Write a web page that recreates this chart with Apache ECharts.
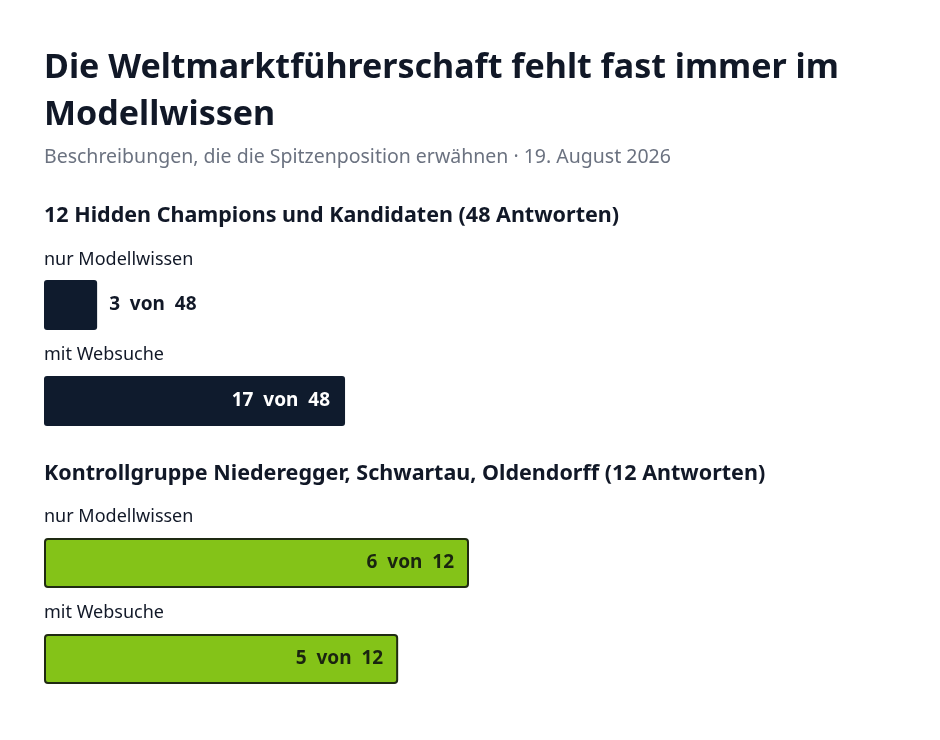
<!DOCTYPE html>
<html><head><meta charset="utf-8">
<script src="https://cdn.jsdelivr.net/npm/echarts@6/dist/echarts.min.js"></script>
<style>body{margin:0;background:#fff}#c{width:940px;height:740px}</style>
</head><body><div id="c"></div>
<script>
const groups = ["12 Hidden Champions und Kandidaten (48 Antworten)", "Kontrollgruppe Niederegger, Schwartau, Oldendorff (12 Antworten)"];
const rowLabels = ["nur Modellwissen", "mit Websuche", "nur Modellwissen", "mit Websuche"];
const hits = [3, 17, 6, 5];
const totals = [48, 48, 12, 12];
const groupOf = [0, 0, 1, 1];
const colors = ["#0f1b2d", "#84c318"];

const F = '"Noto Sans", "Open Sans", sans-serif';
const barTops = [280, 376, 538, 634];
const labelY = [263, 358, 520, 616];
const headY = [219, 477];

const grids = [], xAxes = [], yAxes = [], series = [], graphic = [];
graphic.push({type:'text', left:44, top:45, style:{text:'Die Weltmarktführerschaft fehlt fast immer im\nModellwissen', font:'bold 34px '+F, fill:'#111827', lineHeight:47}});
graphic.push({type:'text', left:44, top:147, style:{text:'Beschreibungen, die die Spitzenposition erwähnen · 19. August 2026', font:'19.5px '+F, fill:'#6b7280'}});
groups.forEach((g,i)=>graphic.push({type:'text', left:44, top:headY[i]-14, style:{text:g, font:'bold 21.5px '+F, fill:'#111827'}}));
hits.forEach((h,i)=>{
  graphic.push({type:'text', left:44, top:labelY[i]-12, style:{text:rowLabels[i], font:'18px '+F, fill:'#111827'}});
  grids.push({left:44, width:850, top:barTops[i], height:50});
  xAxes.push({type:'value', gridIndex:i, min:0, max:1, show:false});
  yAxes.push({type:'category', gridIndex:i, data:[rowLabels[i]], show:false});
  const frac = h/totals[i];
  const green = groupOf[i]===1;
  const small = frac < 0.1;
  series.push({type:'bar', xAxisIndex:i, yAxisIndex:i, barWidth:'100%', silent:true,
    data:[{value:frac}],
    itemStyle:{color:colors[groupOf[i]], borderRadius:3, borderColor: green?'#1f2a12':colors[0], borderWidth: green?2:0},
    label:{show:true, position: small?'right':'insideRight', distance: small?12:15,
      formatter:()=>h+'  von  '+totals[i],
      fontFamily:F, fontWeight:'bold', fontSize:19,
      color: small?'#111827':(green?'#1a2410':'#ffffff')}
  });
});
const chart = echarts.init(document.getElementById('c'));
chart.setOption({animation:false, grid:grids, xAxis:xAxes, yAxis:yAxes, series, graphic});
</script></body></html>
